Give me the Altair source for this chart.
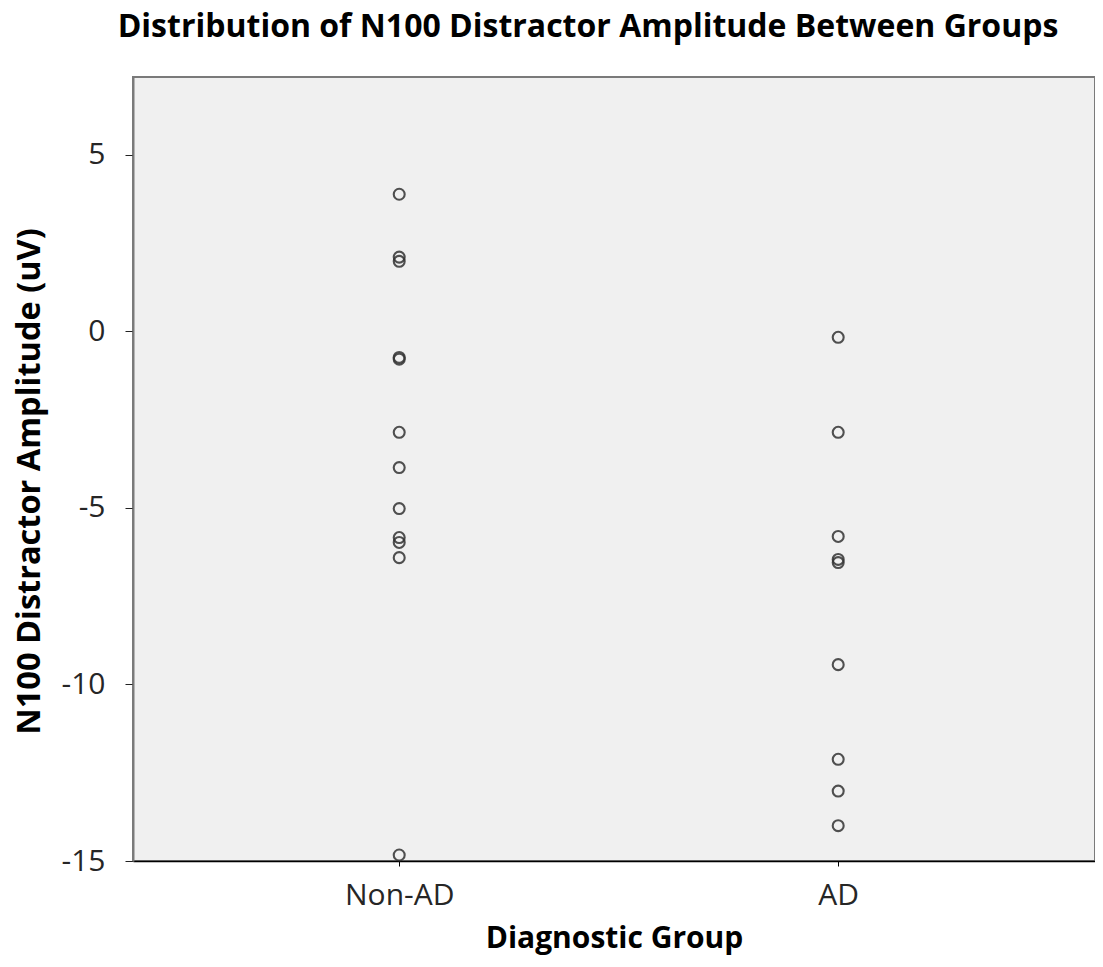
import altair as alt
import pandas as pd

non_ad = [3.88, 2.10, 1.98, -0.74, -0.79, -2.86, -3.86, -5.02, -5.84, -5.98, -6.41, -14.83]
ad = [-0.17, -2.86, -5.81, -6.46, -6.55, -9.44, -12.12, -13.02, -14.0]
groups = ["Non-AD", "AD"]
y_ticks = [-15, -10, -5, 0, 5]

df = pd.DataFrame({
    "group": ["Non-AD"] * len(non_ad) + ["AD"] * len(ad),
    "value": non_ad + ad,
})

FONT = "Open Sans"

chart = alt.Chart(df).mark_point(
    shape="circle", filled=False, size=120, strokeWidth=2.1, color="#333333", opacity=0.85
).encode(
    x=alt.X("group:N", sort=groups, scale=alt.Scale(type="point", padding=0.5957, align=0.509),
            axis=alt.Axis(title="Diagnostic Group", labelAngle=0, tickSize=5,
                          domainColor="#000000", tickColor="#000000", domainWidth=1.5,
                          labelPadding=14, titlePadding=13, titleFontSize=30)),
    y=alt.Y("value:Q", scale=alt.Scale(domain=[-15, 7.2], nice=False, zero=False),
            axis=alt.Axis(title="N100 Distractor Amplitude (uV)", values=y_ticks, tickSize=8,
                          labelExpr="'' + datum.value",
                          domainColor="#7a7a7a", tickColor="#222222", domainWidth=2,
                          labelPadding=20, titlePadding=15, titleFontSize=32.5,
                          titleY=404, grid=False)),
).properties(
    width=962,
    height=784,
    background="white",
    title=alt.TitleParams("Distribution of N100 Distractor Amplitude Between Groups",
                          anchor="middle", dx=-26, offset=33, fontSize=32, font=FONT,
                          fontWeight="bold", color="#000000"),
    padding={"left": 125, "top": 69, "right": 0, "bottom": 98},
    autosize=alt.AutoSizeParams(type="none"),
).configure_view(
    fill="#f0f0f0", stroke="#7a7a7a", strokeWidth=2
).configure_axis(
    labelFont=FONT, titleFont=FONT, labelFontSize=30,
    labelColor="#262626", titleColor="#000000", titleFontWeight="bold"
)

chart.save("out.html", embed_options={"renderer": "svg", "actions": False})
